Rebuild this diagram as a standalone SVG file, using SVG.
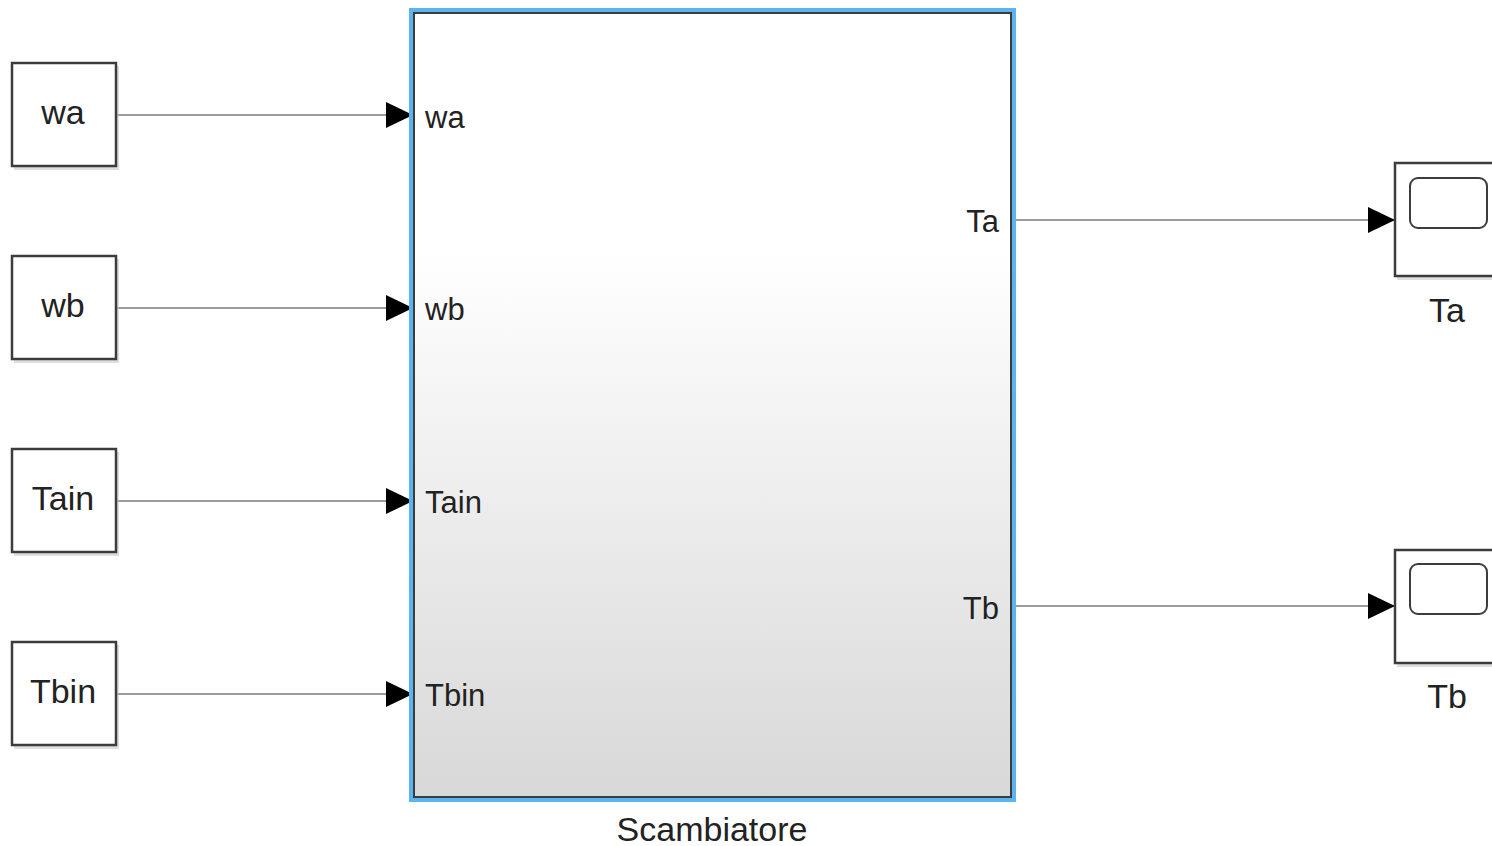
<svg xmlns="http://www.w3.org/2000/svg" width="1492" height="846" viewBox="0 0 1492 846">
  <style>
    .blk { fill: #ffffff; stroke: #3c3c3c; stroke-width: 2.5; }
    .shd { fill: #c8c8c8; opacity: 0.6; }
    .wire { stroke: #7a7a7a; stroke-width: 1.5; fill: none; }
    .lbl { font-family: "Liberation Sans", Arial, sans-serif; fill: #222222; }
    .src { font-size: 34px; text-anchor: middle; }
    .port { font-size: 31px; }
    .name { font-size: 34px; text-anchor: middle; }
  </style>
  <defs>
    <linearGradient id="subsysFill" x1="0" y1="0" x2="0" y2="1">
      <stop offset="0" stop-color="#ffffff"/>
      <stop offset="0.3" stop-color="#ffffff"/>
      <stop offset="1" stop-color="#d8d8d8"/>
    </linearGradient>
    <marker id="arr" markerWidth="27" markerHeight="26" refX="27" refY="13" orient="auto" markerUnits="userSpaceOnUse">
      <path d="M0,0 L27,13 L0,26 Z" fill="#000000"/>
    </marker>
  </defs>
  <rect width="1492" height="846" fill="#ffffff"/>

  <!-- connectors -->
  <g id="connectors">
    <line class="wire" x1="117" y1="115" x2="413" y2="115" marker-end="url(#arr)"/>
    <line class="wire" x1="117" y1="308" x2="413" y2="308" marker-end="url(#arr)"/>
    <line class="wire" x1="117" y1="501" x2="413" y2="501" marker-end="url(#arr)"/>
    <line class="wire" x1="117" y1="694" x2="413" y2="694" marker-end="url(#arr)"/>
    <line class="wire" x1="1013" y1="220" x2="1395" y2="220" marker-end="url(#arr)"/>
    <line class="wire" x1="1013" y1="606" x2="1395" y2="606" marker-end="url(#arr)"/>
  </g>

  <!-- input source blocks -->
  <g id="wa">
    <rect class="shd" x="14" y="66" width="105" height="104"/>
    <rect class="blk" x="12" y="63" width="104" height="103"/>
    <text class="lbl src" x="63" y="124">wa</text>
  </g>
  <g id="wb">
    <rect class="shd" x="14" y="259" width="105" height="104"/>
    <rect class="blk" x="12" y="256" width="104" height="103"/>
    <text class="lbl src" x="63" y="317">wb</text>
  </g>
  <g id="Tain">
    <rect class="shd" x="14" y="452" width="105" height="104"/>
    <rect class="blk" x="12" y="449" width="104" height="103"/>
    <text class="lbl src" x="63" y="510">Tain</text>
  </g>
  <g id="Tbin">
    <rect class="shd" x="14" y="645" width="105" height="104"/>
    <rect class="blk" x="12" y="642" width="104" height="103"/>
    <text class="lbl src" x="63" y="703">Tbin</text>
  </g>

  <!-- subsystem -->
  <g id="Scambiatore">
    <rect x="411" y="10" width="603" height="790" fill="none" stroke="#5ab4f0" stroke-width="4"/>
    <rect x="414" y="13" width="597" height="784" fill="url(#subsysFill)" stroke="#3c3c3c" stroke-width="2"/>
    <text class="lbl port" x="425" y="128">wa</text>
    <text class="lbl port" x="425" y="320">wb</text>
    <text class="lbl port" x="425" y="513">Tain</text>
    <text class="lbl port" x="425" y="706">Tbin</text>
    <text class="lbl port" x="999" y="232" text-anchor="end">Ta</text>
    <text class="lbl port" x="999" y="619" text-anchor="end">Tb</text>
    <text class="lbl name" x="712" y="841">Scambiatore</text>
  </g>

  <!-- scopes -->
  <g id="scopeTa">
    <rect class="shd" x="1397" y="166" width="100" height="114"/>
    <rect class="blk" x="1395" y="163" width="100" height="113"/>
    <rect x="1410" y="178" width="77" height="50" rx="8" fill="#ffffff" stroke="#3c3c3c" stroke-width="2"/>
    <text class="lbl name" x="1447" y="322">Ta</text>
  </g>
  <g id="scopeTb">
    <rect class="shd" x="1397" y="553" width="100" height="114"/>
    <rect class="blk" x="1395" y="550" width="100" height="113"/>
    <rect x="1410" y="564" width="77" height="50" rx="8" fill="#ffffff" stroke="#3c3c3c" stroke-width="2"/>
    <text class="lbl name" x="1447" y="708">Tb</text>
  </g>
</svg>
